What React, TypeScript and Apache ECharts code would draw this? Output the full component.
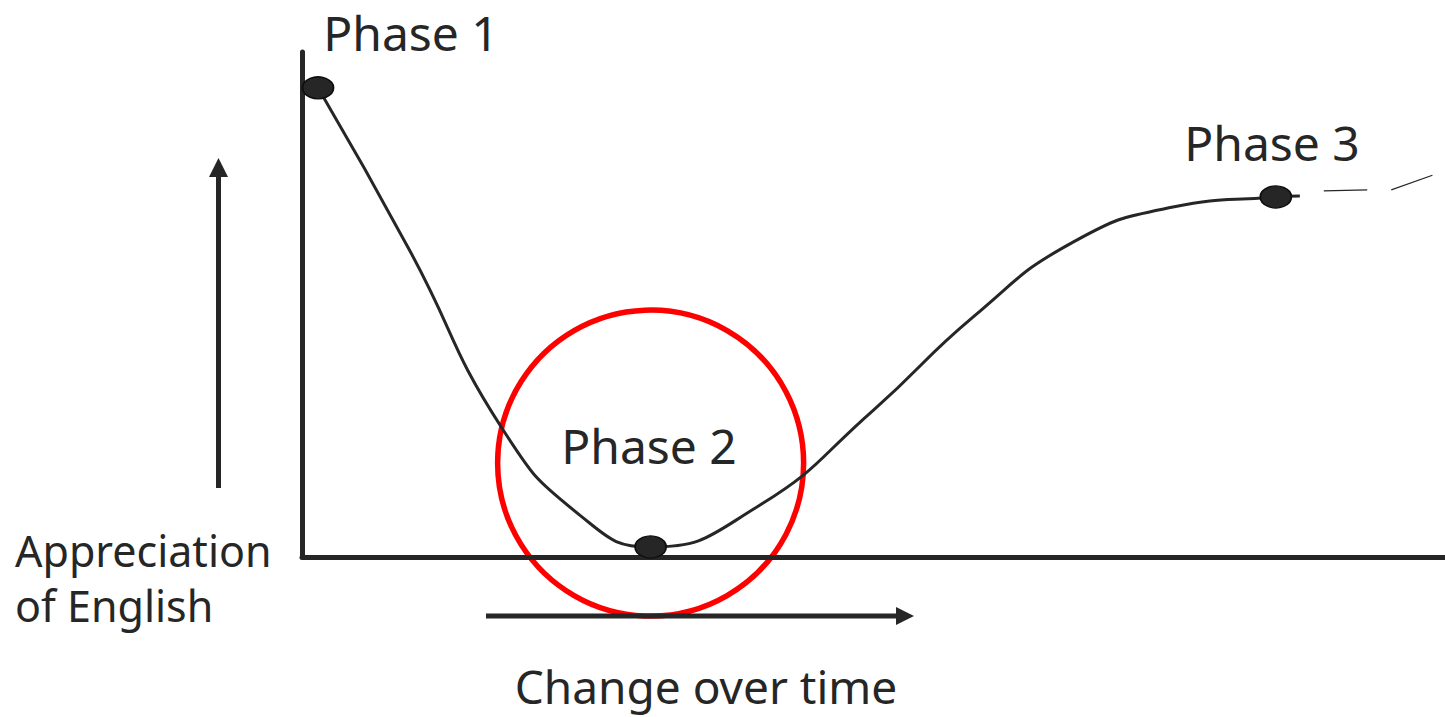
import React, { useEffect, useRef } from "react";
import * as echarts from "echarts";

// Phase markers
const phaseNames = ["Phase 1", "Phase 2", "Phase 3"];
const phaseX = [1.4, 30.5, 85.2];
const phaseY = [92.9, 2.0, 71.3];

// Curve of appreciation over time
const curveX = [1.4, 9.4, 17.5, 24.3, 30.5, 39.8, 50.0, 58.7, 67.5, 76.2, 85.2, 87.3];
const curveY = [92.9, 60.8, 25.5, 8.3, 2.0, 9.9, 29.1, 47.5, 62.4, 69.3, 71.3, 71.5];

// Dashed continuation (two short segments)
const trendAX = [89.4, 93.2];
const trendAY = [72.5, 72.7];
const trendBX = [95.3, 98.9];
const trendBY = [72.7, 75.6];

// Highlight circle around phase 2
const focusX = [30.5];
const focusY = [18.6];

const yLabelLines = ["Appreciation", "of English"];
const xLabel = "Change over time";

const INK = "#262626";

function zip(xs: number[], ys: number[]) {
  return xs.map((x, i) => [x, ys[i]]);
}

export default function App() {
  const ref = useRef<HTMLDivElement>(null);

  useEffect(() => {
    document.body.style.margin = "0";
    if (!ref.current) return;
    const chart = echarts.init(ref.current, undefined, { renderer: "svg" });
    const font = '"Noto Sans", "Open Sans", sans-serif';

    const option: any = {
      animation: false,
      backgroundColor: "#ffffff",
      grid: { left: 302, right: 0, top: 52, bottom: 160 },
      xAxis: {
        type: "value",
        min: 0,
        max: 100,
        z: 5,
        axisLine: { show: true, lineStyle: { color: INK, width: 5 } },
        axisTick: { show: false },
        axisLabel: { show: false },
        splitLine: { show: false },
      },
      yAxis: {
        type: "value",
        min: 0,
        max: 100,
        z: 5,
        axisLine: { show: true, lineStyle: { color: INK, width: 5 } },
        axisTick: { show: false },
        axisLabel: { show: false },
        splitLine: { show: false },
      },
      series: [
        {
          type: "scatter",
          z: 1,
          clip: false,
          symbol: "circle",
          symbolSize: 306,
          itemStyle: { color: "rgba(0,0,0,0)", borderColor: "#ff0000", borderWidth: 5.5, opacity: 1 },
          data: zip(focusX, focusY),
          silent: true,
        },
        {
          type: "line",
          z: 6,
          clip: false,
          smooth: 0.5,
          showSymbol: false,
          lineStyle: { color: INK, width: 3 },
          data: zip(curveX, curveY),
        },
        {
          type: "line",
          z: 6,
          clip: false,
          showSymbol: false,
          lineStyle: { color: INK, width: 1.2 },
          data: zip(trendAX, trendAY),
        },
        {
          type: "line",
          z: 6,
          clip: false,
          showSymbol: false,
          lineStyle: { color: INK, width: 1.2 },
          data: zip(trendBX, trendBY),
        },
        {
          type: "scatter",
          z: 7,
          clip: false,
          symbol: "circle",
          symbolSize: [31, 22],
          itemStyle: { color: "#262626", borderColor: "#0d0d0d", borderWidth: 1.5, opacity: 1 },
          data: phaseX.map((x, i) => ({ name: phaseNames[i], value: [x, phaseY[i]] })),
        },
      ],
      graphic: [
        { type: "text", z: 10, x: 411, y: 32, style: { text: phaseNames[0], font: `48px ${font}`, fill: INK, align: "center", verticalAlign: "middle" } },
        { type: "text", z: 10, x: 649, y: 445, style: { text: phaseNames[1], font: `48px ${font}`, fill: INK, align: "center", verticalAlign: "middle" } },
        { type: "text", z: 10, x: 1272, y: 142, style: { text: phaseNames[2], font: `48px ${font}`, fill: INK, align: "center", verticalAlign: "middle" } },
        { type: "text", z: 10, x: 15, y: 550, style: { text: yLabelLines[0], font: `43px ${font}`, fill: INK, align: "left", verticalAlign: "middle" } },
        { type: "text", z: 10, x: 15, y: 605, style: { text: yLabelLines[1], font: `43px ${font}`, fill: INK, align: "left", verticalAlign: "middle" } },
        { type: "text", z: 10, x: 706, y: 686, style: { text: xLabel, font: `46px ${font}`, fill: INK, align: "center", verticalAlign: "middle" } },
        { type: "line", z: 10, shape: { x1: 218.5, y1: 488, x2: 218.5, y2: 172 }, style: { stroke: INK, lineWidth: 5 } },
        { type: "polygon", z: 10, shape: { points: [[209, 177], [218.5, 158], [228, 177]] }, style: { fill: INK } },
        { type: "line", z: 10, shape: { x1: 486, y1: 616, x2: 900, y2: 616 }, style: { stroke: INK, lineWidth: 5 } },
        { type: "polygon", z: 10, shape: { points: [[896, 607], [914, 616], [896, 625]] }, style: { fill: INK } },
      ],
    };
    chart.setOption(option);
    return () => chart.dispose();
  }, []);

  return <div ref={ref} style={{ width: 1445, height: 717 }} />;
}
